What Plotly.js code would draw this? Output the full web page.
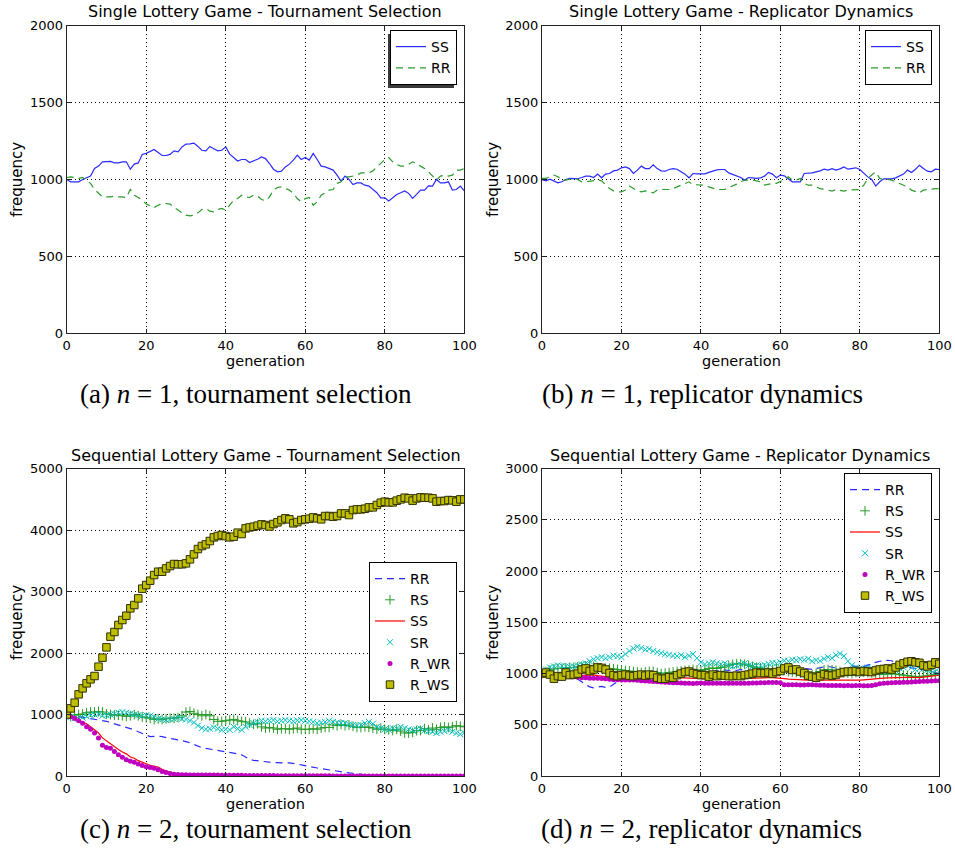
<!DOCTYPE html>
<html><head><meta charset="utf-8">
<script src="https://cdn.plot.ly/plotly-3.0.1.min.js"></script>
<style>html,body{margin:0;padding:0;background:#fff}#chart{width:955px;height:856px}</style>
</head><body><div id="chart"></div>
<script>
const generation = [0,1,2,3,4,5,6,7,8,9,10,11,12,13,14,15,16,17,18,19,20,21,22,23,24,25,26,27,28,29,30,31,32,33,34,35,36,37,38,39,40,41,42,43,44,45,46,47,48,49,50,51,52,53,54,55,56,57,58,59,60,61,62,63,64,65,66,67,68,69,70,71,72,73,74,75,76,77,78,79,80,81,82,83,84,85,86,87,88,89,90,91,92,93,94,95,96,97,98,99,100];

// (a) single lottery, tournament selection
const singleTournamentSS = [1000,985,985,985,1000,1013,1022,1072,1087,1115,1118,
1118,1108,1108,1115,1115,1067,1100,1108,1163,1170,
1180,1195,1175,1156,1156,1163,1186,1180,1212,1230,
1232,1237,1215,1190,1186,1215,1200,1186,1190,1212,
1165,1143,1120,1130,1130,1110,1120,1132,1147,1136,
1104,1067,1050,1054,1082,1100,1126,1158,1130,1143,
1126,1170,1130,1087,1082,1072,1061,1028,990,1022,
1000,967,978,978,963,957,935,914,881,881,
861,883,903,914,926,910,877,903,931,931,
959,957,1000,978,978,985,931,935,957,926];
const singleTournamentRR = [1013,1017,1013,1007,1013,996,975,935,909,887,887,
887,892,887,887,883,935,898,883,866,840,
827,818,833,844,844,840,818,801,783,768,
764,768,783,805,812,794,790,805,812,801,
833,866,876,898,887,883,898,892,870,861,
887,931,948,952,941,931,909,876,855,876,
883,833,855,898,913,931,935,975,985,1017,
1017,1022,1028,1043,1043,1043,1056,1082,1108,1130,
1143,1115,1098,1087,1087,1098,1115,1104,1087,1072,
1050,1022,996,1022,1028,1022,1028,1061,1061,1072];

// (b) single lottery, replicator dynamics
const singleReplicatorSS = [1000,991,1002,989,978,985,1000,1007,1005,1005,1013,
1022,1022,1013,1035,1011,1035,1039,1056,1061,1076,
1082,1071,1039,1061,1087,1071,1071,1095,1071,1056,
1054,1065,1071,1067,1050,1035,1011,1039,1037,1037,
1037,1046,1056,1063,1065,1065,1043,1033,1024,1013,
996,1013,1011,1007,1011,1022,1046,1035,1011,1029,
1024,1007,985,985,985,1039,1039,1043,1050,1056,
1067,1061,1071,1061,1069,1082,1067,1071,1076,1065,
1039,1017,1000,957,985,1004,1004,1004,1011,1022,
1035,1061,1046,1067,1093,1071,1054,1050,1067,1065];
const singleReplicatorRR = [1007,1007,1018,1029,1018,1000,996,1004,1007,1000,985,
985,989,989,996,991,963,941,926,920,920,
931,957,941,926,920,926,920,913,931,937,
935,935,941,952,963,975,985,967,967,967,
963,952,941,935,935,935,948,957,970,985,
996,996,996,991,985,963,970,975,975,985,
1000,1018,996,996,1007,975,963,963,952,941,
937,931,924,935,931,924,931,931,931,935,
963,1007,1029,1050,1007,1000,1000,996,985,975,
963,952,931,920,913,931,935,939,941,941];

// (c) sequential lottery, tournament selection
const seqTournamentRR = [1000,985,975,965,955,945,930,925,920,910,890,
870,850,835,820,790,770,750,720,690,660,
640,645,650,640,620,610,600,590,575,560,
540,510,480,460,450,440,430,420,400,390,
380,370,360,345,310,270,255,245,235,230,
225,220,215,210,210,215,210,195,180,165,
155,145,130,120,110,100,85,70,60,55,
50,45,40,30,20,12,6,3,2,1,
1,1,0,0,0,0,0,0,0,0,
0,0,0,0,0,0,0,0,0,0];
const seqTournamentRS = [1000,970,990,1000,1010,1030,1040,1040,1050,1040,1010,
1000,990,990,980,970,980,1000,980,960,950,
940,920,930,920,930,940,940,950,980,1040,
1050,1020,1000,980,1000,980,920,890,890,900,
910,920,900,890,880,860,840,850,800,780,
790,780,760,770,770,760,770,780,760,760,
760,770,760,780,790,790,830,820,840,820,
830,810,790,790,800,790,780,760,780,760,
750,740,760,730,700,700,710,740,740,770,
750,780,760,790,800,790,800,820,810,800];
const seqTournamentSS = [1000,975,945,910,875,850,800,750,700,620,570,
520,470,430,390,360,310,290,250,220,200,
175,165,145,110,80,55,35,20,12,8,
5,3,2,2,1,1,1,1,0,0,
0,0,0,0,0,0,0,0,0,0,
0,0,0,0,0,0,0,0,0,0,
0,0,0,0,0,0,0,0,0,0,
0,0,0,0,0,0,0,0,0,0,
0,0,0,0,0,0,0,0,0,0,
0,0,0,0,0,0,0,0,0,0];
const seqTournamentSR = [1000,960,940,930,950,970,990,1000,1010,980,990,
1000,1010,1030,1040,1030,1010,1000,990,980,990,
980,960,930,920,910,920,930,950,930,920,
900,870,820,780,760,770,790,770,750,760,
750,800,770,750,800,830,860,880,900,890,
900,910,890,900,910,900,890,905,910,900,
890,880,860,870,880,900,880,870,860,860,
840,830,820,830,860,880,850,800,780,760,
750,780,770,800,780,760,740,760,770,740,
730,720,700,720,730,750,720,700,680,700];
const seqTournamentRWR = [1000,965,935,900,860,800,760,700,620,500,465,
450,400,345,305,265,240,225,195,170,150,
140,125,100,75,55,40,30,25,20,20,
18,18,17,17,16,16,15,15,14,14,
13,12,12,11,10,10,9,9,8,8,
7,7,6,6,5,5,5,4,4,4,
4,3,3,3,3,3,2,2,2,2,
2,2,2,2,1,1,1,1,1,1,
1,1,1,1,0,0,0,0,0,0,
0,0,0,0,0,0,0,0,0,0];
const seqTournamentRWS = [1000,1100,1193,1329,1426,1508,1573,1627,1779,1925,2093,
2267,2343,2457,2538,2608,2728,2782,2890,3048,3107,
3178,3270,3324,3324,3378,3416,3449,3445,3445,3460,
3525,3606,3693,3742,3769,3823,3883,3904,3921,3904,
3883,3894,3959,3937,4029,4045,4056,4073,4094,4083,
4060,4100,4127,4165,4192,4176,4111,4132,4165,4176,
4187,4208,4192,4176,4230,4230,4219,4230,4273,4273,
4246,4327,4338,4338,4349,4371,4371,4409,4447,4463,
4452,4452,4480,4501,4528,4517,4480,4517,4534,4528,
4528,4517,4463,4474,4474,4490,4485,4463,4501,4501];

// (d) sequential lottery, replicator dynamics
const seqReplicatorRR = [1000,1005,1000,1000,995,990,985,975,960,945,920,
895,870,860,865,875,865,870,895,920,945,
940,955,930,920,915,920,930,910,940,965,
975,985,990,995,1000,1005,1010,1015,1010,1015,
1020,1025,1020,1030,1025,1035,1030,1020,1030,1040,
1035,1020,1010,1000,1005,1010,1020,1025,1030,1040,
1060,1080,1075,1070,1060,1050,1045,1040,1050,1060,
1065,1070,1060,1050,1045,1040,1060,1075,1070,1060,
1070,1085,1095,1110,1120,1125,1130,1125,1110,1090,
1070,1060,1055,1050,1045,1040,1030,1020,1010,1000];
const seqReplicatorRS = [1000,1020,1035,1045,1050,1050,1055,1060,1060,1065,1070,
1075,1080,1070,1060,1055,1050,1050,1045,1040,1035,
1030,1025,1020,1015,1010,1015,1020,1020,1010,1000,
1005,1010,1015,1020,1025,1030,1035,1040,1035,1030,
1040,1050,1055,1050,1060,1065,1080,1090,1095,1095,
1090,1080,1070,1060,1055,1050,1045,1040,1045,1050,
1035,1020,1015,1010,1005,1000,995,990,1005,1020,
1035,1040,1035,1030,1020,1010,1005,1000,1010,1020,
1015,1010,1005,1000,995,990,995,1000,995,990,
985,980,975,970,970,975,980,985,990,990];
const seqReplicatorSS = [1000,998,995,993,990,990,988,985,985,983,982,
985,990,988,980,975,970,965,960,955,952,
953,955,955,957,958,960,960,961,960,960,
962,963,962,962,960,958,955,952,950,950,
950,950,948,948,950,950,952,952,950,950,
952,955,958,960,962,962,960,960,958,958,
950,945,942,940,938,937,936,935,935,935,
933,932,932,930,930,930,932,933,935,935,
938,940,945,948,952,955,958,960,960,960,
960,962,962,960,960,965,970,975,980,985];
const seqReplicatorSR = [1000,1040,1060,1070,1080,1075,1070,1065,1070,1080,1090,
1100,1120,1140,1150,1160,1150,1160,1175,1170,1160,
1190,1220,1245,1260,1250,1235,1240,1220,1210,1200,
1190,1185,1175,1170,1180,1160,1175,1190,1150,1110,
1090,1100,1110,1100,1090,1100,1080,1070,1080,1090,
1100,1080,1070,1080,1075,1085,1095,1105,1100,1110,
1125,1120,1135,1130,1140,1135,1145,1120,1130,1125,
1145,1160,1150,1180,1195,1170,1120,1080,1060,1050,
1045,1060,1050,1040,1025,1030,1020,1035,1030,1050,
1060,1080,1060,1040,1050,1045,1035,1030,1020,1010];
const seqReplicatorRWR = [1000,995,990,985,980,978,975,972,970,965,960,
958,955,955,955,952,950,945,940,940,938,
938,938,936,935,930,928,925,922,920,918,
915,912,910,910,908,905,905,902,905,908,
906,905,906,905,906,905,906,905,905,905,
906,906,908,908,910,910,912,912,912,910,
892,890,890,890,888,888,890,890,888,885,
885,884,884,883,883,882,883,882,883,883,
882,882,884,890,900,905,908,910,912,912,
915,915,918,920,922,925,925,928,930,930];
const seqReplicatorRWS = [1000,1010,990,950,975,970,1010,985,990,1000,1040,
1050,1025,1040,1060,1055,1040,1005,985,975,985,
990,980,975,985,990,980,990,985,960,950,
950,965,960,985,1000,1015,1020,1005,995,985,
985,970,990,975,985,980,975,975,980,975,
985,990,1000,1010,1005,1005,1010,1000,1015,1025,
1050,1060,1035,1040,1020,1005,980,970,960,975,
995,985,980,990,1005,1015,1020,1020,1025,1015,
1025,1020,1015,1030,1040,1045,1050,1040,1060,1085,
1100,1115,1120,1110,1105,1080,1070,1085,1110,1095];

const xTicks = [0,20,40,60,80,100];
const yTicksSingle = [0,500,1000,1500,2000];
const yTicksSeqTournament = [0,1000,2000,3000,4000,5000];
const yTicksSeqReplicator = [0,500,1000,1500,2000,2500,3000];

const panelTitles = ['Single Lottery Game - Tournament Selection','Single Lottery Game - Replicator Dynamics',
  'Sequential Lottery Game - Tournament Selection','Sequential Lottery Game - Replicator Dynamics'];
const captions = ['(a) <i>n</i> = 1, tournament selection','(b) <i>n</i> = 1, replicator dynamics',
  '(c) <i>n</i> = 2, tournament selection','(d) <i>n</i> = 2, replicator dynamics'];

// ---- styling / layout ----
const W = 955, H = 856;
const px = v => v / W, py = v => 1 - v / H;
const FONT = 'DejaVu Sans, sans-serif';
const BLUE = '#2a2aff', GREEN = '#2a9a2a', RED = '#ff0000', CYAN = '#00bfbf', MAG = '#bf00bf', YEL = '#bfbf00';

function lineTrace(y, name, color, dash, ax, leg) {
  return {x: generation, y, name, type: 'scatter', mode: 'lines',
    line: {color, width: 1.2, dash: dash || 'solid'}, xaxis: 'x' + ax, yaxis: 'y' + ax, legend: leg, hoverinfo: 'skip'};
}
function markerTrace(y, name, symbol, color, size, lineColor, lw, ax, leg) {
  return {x: generation, y, name, type: 'scatter', mode: 'markers',
    marker: {symbol, color, size, line: {color: lineColor, width: lw}}, xaxis: 'x' + ax, yaxis: 'y' + ax, legend: leg, hoverinfo: 'skip'};
}
function seqTraces(rr, rs, ss, sr, rwr, rws, ax, leg) {
  return [
    lineTrace(rr, 'RR', BLUE, '7px,5px', ax, leg),
    markerTrace(rs, 'RS', 'cross-thin', GREEN, 7, GREEN, 1, ax, leg),
    lineTrace(ss, 'SS', RED, 'solid', ax, leg),
    markerTrace(sr, 'SR', 'x-thin', CYAN, 6, CYAN, 1, ax, leg),
    markerTrace(rwr, 'R_WR', 'circle', MAG, 5, MAG, 0, ax, leg),
    markerTrace(rws, 'R_WS', 'square', YEL, 7.5, '#303000', 1, ax, leg)
  ];
}

const data = [
  lineTrace(singleTournamentSS, 'SS', BLUE, 'solid', '', 'legend'),
  lineTrace(singleTournamentRR, 'RR', GREEN, '7px,5px', '', 'legend'),
  lineTrace(singleReplicatorSS, 'SS', BLUE, 'solid', '2', 'legend2'),
  lineTrace(singleReplicatorRR, 'RR', GREEN, '7px,5px', '2', 'legend2'),
  ...seqTraces(seqTournamentRR, seqTournamentRS, seqTournamentSS, seqTournamentSR, seqTournamentRWR, seqTournamentRWS, '3', 'legend3'),
  ...seqTraces(seqReplicatorRR, seqReplicatorRS, seqReplicatorSS, seqReplicatorSR, seqReplicatorRWR, seqReplicatorRWS, '4', 'legend4')
];

const colL = [px(66.7), px(464.3)], colR = [px(542), px(939.3)];
const rowT = [py(333.3), py(25.7)], rowB = [py(776), py(468.7)];

function axisBase() {
  return {showgrid: true, gridcolor: '#000', griddash: '1px,3px', gridwidth: 1,
    showline: true, mirror: 'allticks', linecolor: '#222', linewidth: 1,
    ticks: 'inside', ticklen: 4, tickcolor: '#222', zeroline: false,
    tickfont: {family: FONT, size: 13, color: '#000'}, fixedrange: true};
}
function xa(domain, anchor) {
  return Object.assign(axisBase(), {domain, anchor, range: [0, 100], tickvals: xTicks, ticktext: xTicks.map(String)});
}
function ya(domain, anchor, range, vals) {
  return Object.assign(axisBase(), {domain, anchor, range, tickvals: vals, ticktext: vals.map(String)});
}
function legendAt(right, top) {
  return {x: px(right), y: py(top), xanchor: 'right', yanchor: 'top', bgcolor: '#fff',
    bordercolor: '#000', borderwidth: 1, font: {family: FONT, size: 14, color: '#000'},
    tracegroupgap: 0, itemwidth: 30};
}

const ann = [];
function txt(text, x, y, size, extra) {
  ann.push(Object.assign({text, x: px(x), y: py(y), xref: 'paper', yref: 'paper', showarrow: false,
    xanchor: 'center', yanchor: 'middle', font: {family: FONT, size, color: '#000'}}, extra || {}));
}
txt(panelTitles[0], 265, 12, 16);
txt(panelTitles[1], 741, 12, 16);
txt(panelTitles[2], 265.5, 455, 16);
txt(panelTitles[3], 740, 455, 16);
txt('generation', 265, 361, 14.5);
txt('generation', 741, 361, 14.5);
txt('generation', 265, 804, 14.5);
txt('generation', 741, 804, 14.5);
txt('frequency', 17, 180, 15, {textangle: -90});
txt('frequency', 493, 180, 15, {textangle: -90});
txt('frequency', 17, 623, 15, {textangle: -90});
txt('frequency', 493, 623, 15, {textangle: -90});
const capFont = {family: 'Liberation Serif, serif', size: 27, color: '#000'};
txt(captions[0], 246, 394, 27, {font: capFont});
txt(captions[1], 702, 394, 27, {font: capFont});
txt(captions[2], 246, 829, 27, {font: capFont});
txt(captions[3], 701, 829, 27, {font: capFont});

const layout = {
  width: W, height: H, margin: {l: 0, r: 0, t: 0, b: 0}, paper_bgcolor: '#fff', plot_bgcolor: '#fff',
  showlegend: true,
  xaxis: xa(colL, 'y'), yaxis: ya(rowT, 'x', [0, 2000], yTicksSingle),
  xaxis2: xa(colR, 'y2'), yaxis2: ya(rowT, 'x2', [0, 2000], yTicksSingle),
  xaxis3: xa(colL, 'y3'), yaxis3: ya(rowB, 'x3', [0, 5000], yTicksSeqTournament),
  xaxis4: xa(colR, 'y4'), yaxis4: ya(rowB, 'x4', [0, 3000], yTicksSeqReplicator),
  legend: legendAt(457, 30), legend2: legendAt(932, 30),
  legend3: legendAt(457, 562), legend4: legendAt(932, 473),
  annotations: ann
};
Plotly.newPlot('chart', data, layout, {displayModeBar: false, staticPlot: true}).then(gd => {
  // matplotlib-style drop shadow behind each legend box
  gd.querySelectorAll('g.legend').forEach(l => {
    const bg = l.querySelector('rect.bg');
    if (!bg) return;
    const sh = bg.cloneNode(false);
    sh.setAttribute('class', 'legend-shadow');
    sh.style.fill = '#3a3a3a';
    sh.style.stroke = 'none';
    sh.setAttribute('transform', (bg.getAttribute('transform') || '') + ' translate(-3,3)');
    bg.parentNode.insertBefore(sh, bg);
  });
});
</script></body></html>
